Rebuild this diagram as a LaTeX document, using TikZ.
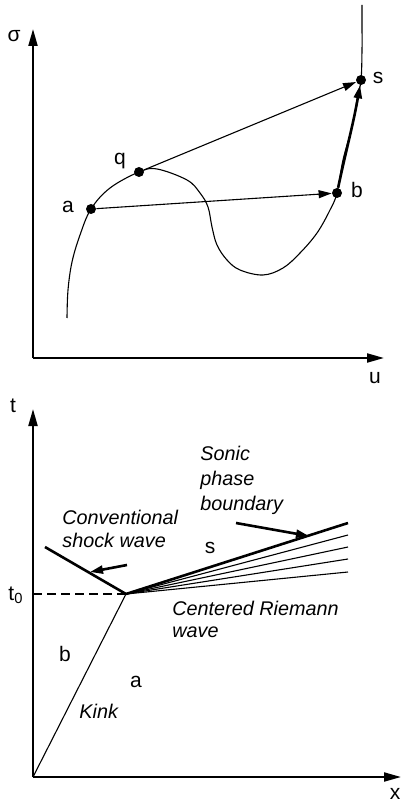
\documentclass[tikz,border=0pt]{standalone}
\usepackage{fontspec}
\setmainfont{Liberation Sans}
\usetikzlibrary{arrows.meta}
\begin{document}
\begin{tikzpicture}[x=0.5pt,y=-0.5pt,
  thinline/.style={line width=0.55pt},
  thickline/.style={line width=1.3pt},
  axisline/.style={line width=1pt,-{Triangle[length=8.5pt,width=4.5pt]}},
  dot/.style={circle,fill,inner sep=0pt,minimum size=5pt},
  lbl/.style={font=\fontsize{10.5}{12}\selectfont,inner sep=0pt,anchor=base},
  note/.style={font=\fontsize{9.9}{12.5}\selectfont\itshape,inner sep=0pt,anchor=base west},
  tiparrow/.style={-{Triangle[length=6.5pt,width=4pt]}}]
\useasboundingbox (0,0) rectangle (401,801);

% ---------- upper graph ----------
\coordinate (O1) at (33,358);
\coordinate (sigtop) at (33,29);
\coordinate (uend) at (384,358);
\draw[axisline] (O1) -- (sigtop);
\draw[axisline] (O1) -- (uend);
\node[lbl] (sig) at (14,42) {σ};
\node[lbl] (ulab) at (375,383) {u};

\node[dot] (a) at (91,209) {};
\node[dot] (q) at (139,172) {};
\node[dot] (b) at (337,193) {};
\node[dot] (s) at (361,80) {};

\draw[thinline] plot[smooth,tension=0.6] coordinates {
  (67,318) (68,290) (72,262) (80,235) (91,209) (110,188) (139,172)
  (157,169) (187,180) (200,193) (208,207) (212,227) (217,245) (227,260)
  (240,270) (263,275) (283,268) (300,253) (317,233) (330,210) (337,193)
  (343,160) (352,127) (357,100) (361,80) (362,50) (362,25) (362,5)};

\node[lbl] (alab) at (68,213) {a};
\node[lbl] (qlab) at (120,165) {q};
\node[lbl] (blab) at (357,198) {b};
\node[lbl] (slab) at (378,84) {s};

\draw[thinline,tiparrow] (a) -- (b);
\draw[thinline,tiparrow] (q) -- (s);
\draw[thickline,tiparrow] (b) to[out=78,in=-100] (s);

% ---------- lower graph ----------
\coordinate (O2) at (33,777);
\coordinate (ttop) at (33,409);
\coordinate (xend) at (401,777);
\draw[axisline] (O2) -- (ttop);
\draw[axisline] (O2) -- (xend);
\node[lbl] (tlab) at (13,412) {t};
\node[lbl] (xlab) at (395,799) {x};
\node[lbl] (t0lab) at (16,600) {t\textsubscript{0}};

\coordinate (c) at (126,594);
\coordinate (t0ax) at (33,594);
\draw[thinline,dash pattern=on 4.5pt off 2.5pt] (t0ax) -- (c);
\draw[thinline] (O2) -- (c);
\coordinate (shockend) at (45,547);
\draw[thickline] (c) -- (shockend);

\coordinate (f0) at (348,523);
\coordinate (f1) at (348,535);
\coordinate (f2) at (348,547);
\coordinate (f3) at (348,559);
\coordinate (f4) at (348,572);
\draw[thickline] (c) -- (f0);
\draw[thinline] (c) -- (f1);
\draw[thinline] (c) -- (f2);
\draw[thinline] (c) -- (f3);
\draw[thinline] (c) -- (f4);

\coordinate (sa0) at (127,565);
\coordinate (sa1) at (90,572);
\draw[thickline,tiparrow] (sa0) -- (sa1);
\coordinate (pa0) at (236,523);
\coordinate (pa1) at (309,536);
\draw[thickline,tiparrow] (pa0) -- (pa1);

\node[note] (conv1) at (62,524) {Conventional};
\node[note] (conv2) at (62,547) {shock wave};
\node[note] (son1) at (200,460) {Sonic};
\node[note] (son2) at (200,485) {phase};
\node[note] (son3) at (200,510) {boundary};
\node[note] (cen1) at (172,615) {Centered Riemann};
\node[note] (cen2) at (172,637) {wave};
\node[note] (kink) at (79,718) {Kink};
\node[lbl] (slow) at (210,553) {s};
\node[lbl] (blow) at (65,661) {b};
\node[lbl] (alow) at (136,687) {a};
\end{tikzpicture}
\end{document}
